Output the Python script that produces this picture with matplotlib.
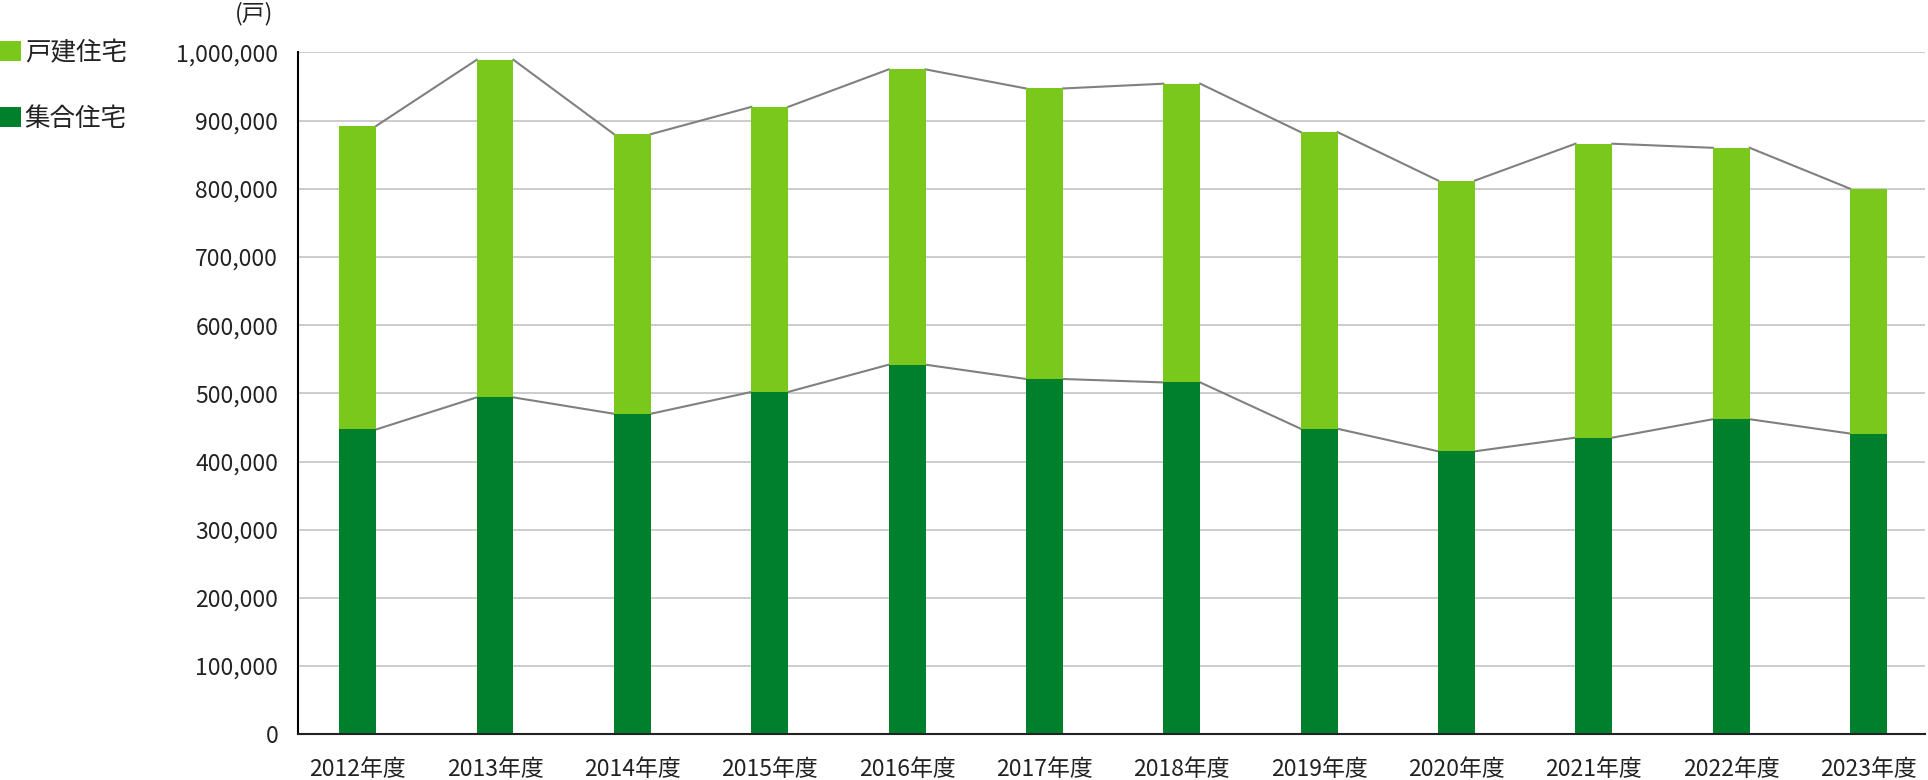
import matplotlib
matplotlib.use('Agg')
import matplotlib.pyplot as plt
from matplotlib.ticker import StrMethodFormatter
import numpy as np

plt.rcParams['font.family'] = ['Noto Sans CJK JP', 'DejaVu Sans']

years = ['2012年度', '2013年度', '2014年度', '2015年度', '2016年度', '2017年度',
         '2018年度', '2019年度', '2020年度', '2021年度', '2022年度', '2023年度']
# 集合住宅 (bottom) and 戸建住宅 (stacked on top), in 戸
shuugou = [447000, 494000, 470000, 502000, 542000, 521000,
           516000, 448000, 415000, 435000, 462000, 441000]
kodate = [445000, 495000, 410000, 418000, 433000, 426000,
          438000, 435000, 397000, 431000, 398000, 359000]

DARK = '#00802D'
LIGHT = '#7AC81C'
TXT = '#222222'

fig = plt.figure(figsize=(19.28, 7.8), dpi=100)
ax = fig.add_axes([0.1544, 0.0586, 0.844, 0.8743])

x = np.arange(len(years))
w = 0.268
total = [a + b for a, b in zip(shuugou, kodate)]

b1 = ax.bar(x, shuugou, w, color=DARK, label='集合住宅', zorder=3)
b2 = ax.bar(x, kodate, w, bottom=shuugou, color=LIGHT, label='戸建住宅', zorder=3)

# series lines between stacked bars
for tops in (shuugou, total):
    for i in range(len(x) - 1):
        ax.plot([x[i] + w / 2, x[i + 1] - w / 2], [tops[i], tops[i + 1]],
                color='#808080', lw=1.5, zorder=2)

ax.set_xlim(-0.437, 11.41)
ax.set_ylim(0, 1000000)
ax.set_yticks(np.arange(0, 1000001, 100000))
ax.yaxis.set_major_formatter(StrMethodFormatter('{x:,.0f}'))
ax.set_xticks(x)
ax.set_xticklabels(years)
ax.tick_params(axis='y', length=0, pad=14, labelsize=16.5, labelcolor=TXT)
ax.tick_params(axis='x', length=0, pad=17, labelsize=16.5, labelcolor=TXT)

ax.grid(axis='y', color='#BFBFBF', lw=1.1, zorder=0)
ax.set_axisbelow(True)
for s in ('top', 'right'):
    ax.spines[s].set_visible(False)
ax.spines['left'].set_color('black')
ax.spines['left'].set_linewidth(1.5)
ax.spines['bottom'].set_color('#222222')
ax.spines['bottom'].set_linewidth(1.5)
ax.spines['left'].set_zorder(4)
ax.spines['bottom'].set_zorder(4)

fig.text(273 / 1928, 1 - 14 / 780, '(戸)', ha='right', va='center',
         fontsize=16.5, color=TXT)

fig.legend([b2, b1], ['戸建住宅', '集合住宅'], loc='upper left',
           bbox_to_anchor=(0, 1 - 40 / 780), frameon=False, fontsize=18.4,
           handlelength=0.82, handleheight=0.82, handletextpad=0.15,
           labelspacing=1.55, borderpad=0, borderaxespad=0, labelcolor=TXT)

fig.savefig('out.png', dpi=100)
